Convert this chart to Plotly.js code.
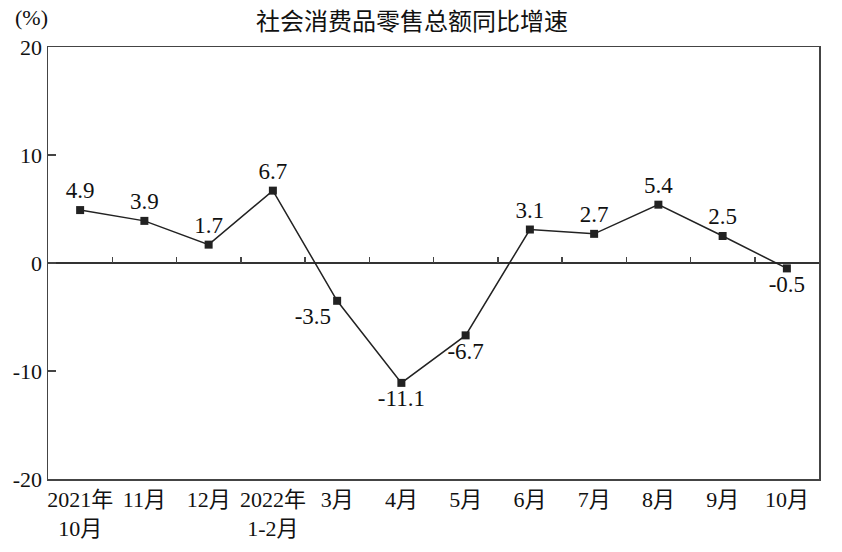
<!DOCTYPE html>
<html>
<head>
<meta charset="utf-8">
<script src="https://cdn.plot.ly/plotly-3.0.1.min.js"></script>
<style>html,body{margin:0;padding:0;background:#fff;}#chart{width:842px;height:552px;}</style>
</head>
<body>
<div id="chart"></div>
<script>
const categories = ["2021年<br>10月", "11月", "12月", "2022年<br>1-2月", "3月", "4月", "5月", "6月", "7月", "8月", "9月", "10月"];
const growth = [4.9, 3.9, 1.7, 6.7, -3.5, -11.1, -6.7, 3.1, 2.7, 5.4, 2.5, -0.5];
const labelPositions = ["top center", "top center", "top center", "top center", "bottom left", "bottom center", "bottom center", "top center", "top center", "top center", "top center", "bottom center"];
const yTicks = [-20, -10, 0, 10, 20];
const titleText = "社会消费品零售总额同比增速";
const unitText = "(%)";

const serif = "Liberation Serif, Times New Roman, Noto Sans CJK SC, serif";

const trace = {
  type: "scatter",
  mode: "lines+markers+text",
  x: categories,
  y: growth,
  text: growth.map(v => v.toFixed(1)),
  textposition: labelPositions,
  textfont: {family: serif, size: 23, color: "#111"},
  line: {color: "#222", width: 1.5},
  marker: {symbol: "square", size: 8, color: "#222"},
  cliponaxis: false,
  hoverinfo: "skip"
};

// helper trace (no visible marks) so the category-boundary tick axis on the zero line is drawn
const boundaryTrace = {
  type: "scatter",
  mode: "markers",
  x: categories,
  y: categories.map(() => null),
  xaxis: "x2",
  yaxis: "y",
  marker: {opacity: 0},
  hoverinfo: "skip",
  showlegend: false
};

const layout = {
  width: 842,
  height: 552,
  margin: {l: 48, r: 23, t: 47, b: 73},
  paper_bgcolor: "#fff",
  plot_bgcolor: "#fff",
  showlegend: false,
  title: {
    text: titleText,
    font: {family: serif, size: 24, color: "#111"},
    xref: "paper", x: 0.472, xanchor: "center",
    yref: "container", y: 0.960, yanchor: "middle"
  },
  xaxis: {
    type: "category",
    range: [-0.5, 11.5],
    showline: true, linecolor: "#444", linewidth: 1.5, mirror: true,
    showgrid: false, zeroline: false,
    ticks: "",
    tickfont: {family: serif, size: 22, color: "#111"},
    fixedrange: true
  },
  xaxis2: {
    type: "category",
    overlaying: "x",
    anchor: "free",
    position: 0.5,
    range: [-0.5, 11.5],
    tickson: "boundaries",
    ticks: "inside", ticklen: 6, tickwidth: 1.5, tickcolor: "#444",
    showticklabels: false, showline: false, showgrid: false, zeroline: false,
    fixedrange: true
  },
  yaxis: {
    range: [-20, 20],
    tickmode: "array",
    tickvals: yTicks,
    ticktext: yTicks.map(String),
    showline: true, linecolor: "#444", linewidth: 1.5, mirror: true,
    showgrid: false,
    zeroline: true, zerolinecolor: "#333", zerolinewidth: 1.5,
    ticks: "inside", ticklen: 8, tickwidth: 1.5, tickcolor: "#444",
    tickfont: {family: serif, size: 22, color: "#111"},
    fixedrange: true
  },
  annotations: [{
    text: unitText,
    xref: "paper", yref: "paper",
    x: -0.021, y: 1.069, xanchor: "center", yanchor: "middle",
    showarrow: false,
    font: {family: serif, size: 22, color: "#111"}
  }]
};

Plotly.newPlot("chart", [trace, boundaryTrace], layout, {displayModeBar: false, staticPlot: true});
</script>
</body>
</html>
